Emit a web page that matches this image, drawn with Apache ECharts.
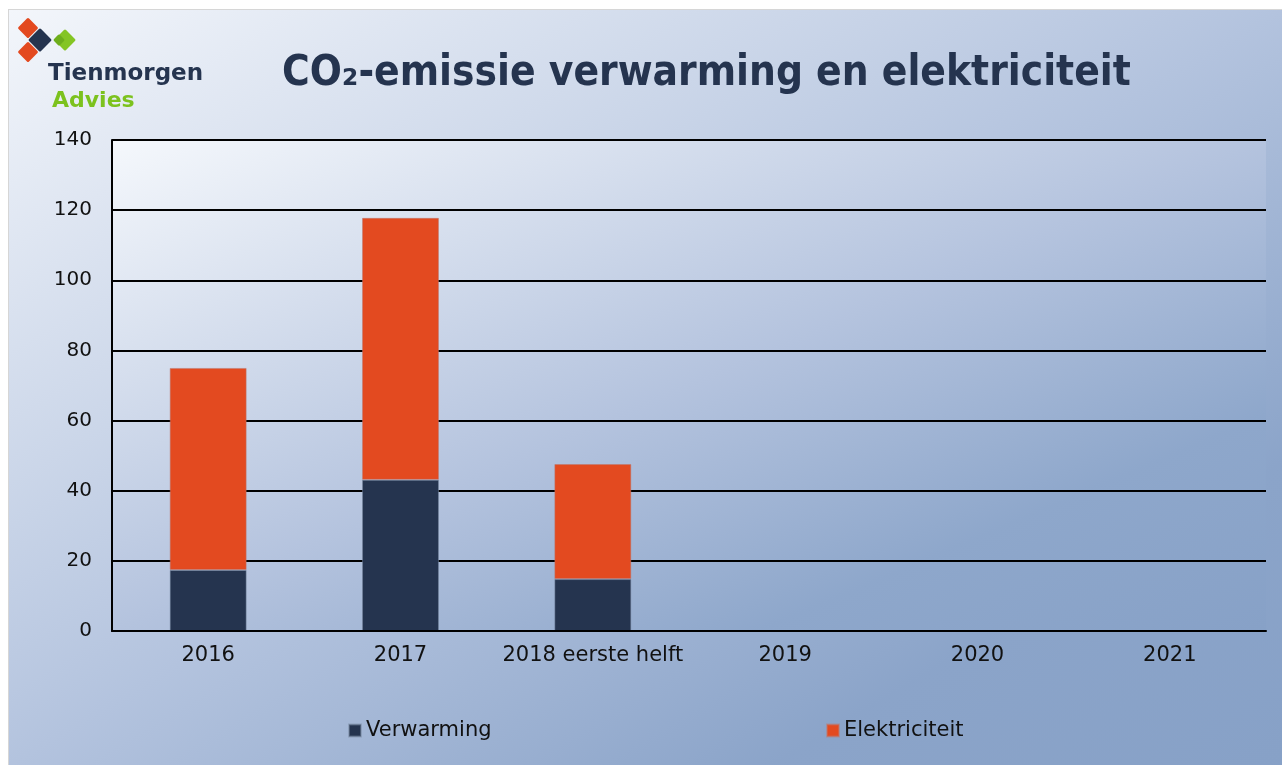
<!DOCTYPE html>
<html>
<head>
<meta charset="utf-8">
<script src="https://cdn.jsdelivr.net/npm/echarts@6/dist/echarts.min.js"></script>
<style>
  html, body { margin: 0; padding: 0; background: #ffffff; width: 1282px; height: 765px; overflow: hidden; }
  #frame { position: absolute; left: 8px; top: 9px; width: 1274px; height: 756px; background: #d6d6d6; }
  #chart { position: absolute; left: 9px; top: 10px; width: 1273px; height: 755px; }
</style>
</head>
<body>
<div id="frame"></div>
<div id="chart"></div>
<script>
const categories = ['2016', '2017', '2018 eerste helft', '2019', '2020', '2021'];
const verwarming = [17.4, 43.1, 14.8, null, null, null];
const elektriciteit = [57.6, 74.7, 32.8, null, null, null];
const yTicks = { min: 0, max: 140, interval: 20 };
const titleText = 'CO\u2082-emissie verwarming en elektriciteit';
const logoTop = 'Tienmorgen';
const logoBottom = 'Advies';

const W = 1273, H = 755;
const grid = { left: 103, right: 16, top: 130, bottom: 134 };
const gx0 = grid.left, gy0 = grid.top, gw = W - grid.left - grid.right, gh = H - grid.top - grid.bottom;

function antiDiagGrad(x, y, w, h, stops) {
  const t = 2 * w * h / (w * w + h * h);
  return new echarts.graphic.LinearGradient(x, y, x + t * h, y + t * w, stops, true);
}

const chart = echarts.init(document.getElementById('chart'), null, { renderer: 'canvas' });

function diamond(cx, cy, half, color, z) {
  const s = half * Math.SQRT2;
  return {
    type: 'rect', x: cx, y: cy, rotation: Math.PI / 4, z: z || 10,
    shape: { x: -s / 2, y: -s / 2, width: s, height: s, r: 1.5 },
    style: { fill: color }
  };
}

const option = {
  animation: false,
  backgroundColor: antiDiagGrad(0, 0, W, H, [
    { offset: 0, color: '#f3f6fb' },
    { offset: 0.5, color: '#b3c3de' },
    { offset: 0.8, color: '#8ba4c9' },
    { offset: 1, color: '#87a1c7' }
  ]),
  grid: {
    left: grid.left, right: grid.right, top: grid.top, bottom: grid.bottom,
    show: true, borderWidth: 0,
    backgroundColor: antiDiagGrad(gx0, gy0, gw, gh, [
      { offset: 0, color: '#f5f8fc' },
      { offset: 0.5, color: '#b4c3de' },
      { offset: 0.78, color: '#8ea7cb' },
      { offset: 1, color: '#87a1c7' }
    ])
  },
  xAxis: {
    type: 'category',
    data: categories,
    axisLine: { show: true, lineStyle: { color: '#000000', width: 2 } },
    axisTick: { show: false },
    axisLabel: { interval: 0, color: '#111111', fontSize: 21, fontFamily: 'DejaVu Sans', margin: 14 },
    z: 5
  },
  yAxis: {
    type: 'value',
    min: yTicks.min, max: yTicks.max, interval: yTicks.interval,
    axisLine: { show: true, lineStyle: { color: '#000000', width: 2 } },
    axisTick: { show: false },
    splitLine: { show: true, lineStyle: { color: '#000000', width: 2 } },
    axisLabel: { color: '#111111', fontSize: 20, fontFamily: 'DejaVu Sans', margin: 20 }
  },
  legend: [
    {
      data: ['Verwarming'], left: 334, top: 705, icon: 'rect', itemWidth: 12, itemHeight: 12, itemGap: 5,
      textStyle: { color: '#111111', fontSize: 21, fontFamily: 'DejaVu Sans', padding: [0, 0, 0, 0] }
    },
    {
      data: ['Elektriciteit'], left: 812, top: 705, icon: 'rect', itemWidth: 12, itemHeight: 12, itemGap: 5,
      textStyle: { color: '#111111', fontSize: 21, fontFamily: 'DejaVu Sans', padding: [0, 0, 0, 0] }
    }
  ],
  series: [
    {
      name: 'Verwarming', type: 'bar', stack: 'co2', data: verwarming, barWidth: '40%',
      itemStyle: { color: '#25344f', borderColor: 'rgba(120,135,160,0.5)', borderWidth: 1 }, z: 3
    },
    {
      name: 'Elektriciteit', type: 'bar', stack: 'co2', data: elektriciteit, barWidth: '40%',
      itemStyle: { color: '#e34a20', borderColor: 'rgba(190,120,110,0.5)', borderWidth: 1 }, z: 3
    }
  ],
  graphic: [
    diamond(19, 18, 10.5, '#e3491f', 10),
    diamond(19, 42, 10.5, '#e3491f', 10),
    diamond(31, 30, 12, '#25344f', 11),
    diamond(56, 30, 11, '#84c524', 10),
    diamond(50, 30, 6, '#6eae1c', 11),
    {
      type: 'text', x: 39, y: 64, z: 12,
      style: { text: logoTop, font: 'bold 23px "DejaVu Sans"', fill: '#25344f', verticalAlign: 'middle', align: 'left' }
    },
    {
      type: 'text', x: 43, y: 91, z: 12,
      style: { text: logoBottom, font: 'bold 22px "DejaVu Sans"', fill: '#7cc21e', verticalAlign: 'middle', align: 'left' }
    },
    {
      type: 'text', x: 273, y: 64, z: 12,
      style: { text: titleText, font: 'bold 42px "DejaVu Sans Condensed", "DejaVu Sans"', fill: '#25344f', verticalAlign: 'middle', align: 'left' }
    }
  ]
};
chart.setOption(option);
</script>
</body>
</html>
